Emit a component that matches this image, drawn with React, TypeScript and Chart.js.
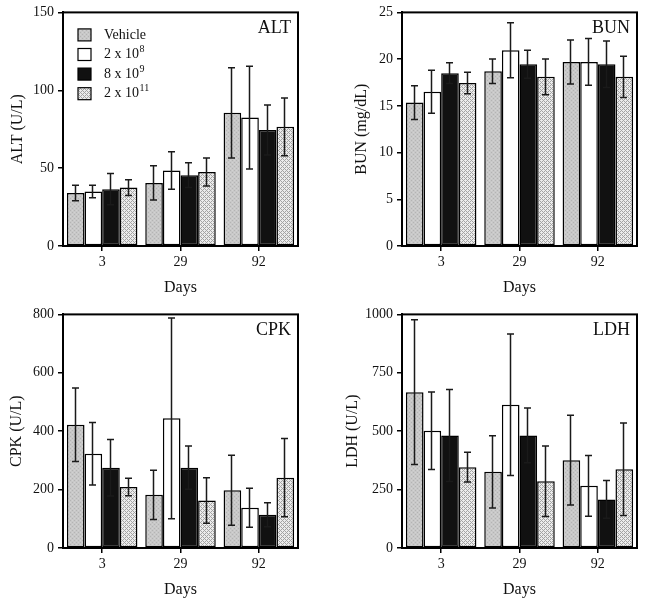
import React, { useEffect, useRef } from 'react';
import { Chart, registerables } from 'chart.js';

Chart.register(...registerables);

// ---------- data ----------
const days = ['3', '29', '92'];
const groupNames = ['Vehicle', '2 x 10', '8 x 10', '2 x 10'];
const groupExps = ['', '8', '9', '11'];

// rows: Vehicle, 2x10^8, 8x10^9, 2x10^11 ; columns: days 3, 29, 92
const altMeans = [[34, 40.5, 85.5], [35, 48.5, 82.5], [36.5, 45.5, 74.5], [37.5, 47.5, 76.5]];
const altErrs = [[5, 11, 29], [4, 12, 33], [10, 8, 16], [5, 9, 18.5]];

const bunMeans = [[15.35, 18.7, 19.7], [16.5, 20.95, 19.7], [18.5, 19.45, 19.45], [17.45, 18.1, 18.1]];
const bunErrs = [[1.8, 1.3, 2.35], [2.3, 2.95, 2.5], [1.1, 1.5, 2.5], [1.15, 1.9, 2.2]];

const cpkMeans = [[422, 182, 198], [323, 444, 138], [275, 275, 114], [209, 163, 241]];
const cpkErrs = [[126, 84, 120], [107, 344, 67], [97, 74, 41], [30, 78, 134]];

const ldhMeans = [[667, 326, 376], [502, 613, 266], [482, 482, 208], [346, 286, 337]];
const ldhErrs = [[310, 155, 192], [166, 303, 130], [197, 117, 81], [64, 151, 198]];

const altAxis = [0, 150, 50];
const bunAxis = [0, 25, 5];
const cpkAxis = [0, 800, 200];
const ldhAxis = [0, 1000, 250];

const FONT = '"Liberation Serif", "DejaVu Serif", serif';

function makePattern(kind: string): CanvasPattern | string {
  const c = document.createElement('canvas');
  c.width = 4; c.height = 4;
  const g = c.getContext('2d')!;
  if (kind === 'stipple') {
    g.fillStyle = '#c8c8c8'; g.fillRect(0, 0, 4, 4);
    g.fillStyle = '#b4b4b4';
    g.fillRect(0, 0, 1, 1); g.fillRect(2, 2, 1, 1);
    g.fillStyle = '#d2d2d2';
    g.fillRect(2, 0, 1, 1); g.fillRect(0, 2, 1, 1);
  } else {
    g.fillStyle = '#ececec'; g.fillRect(0, 0, 4, 4);
    g.fillStyle = '#a4a4a4';
    for (let x = 0; x < 4; x++) {
      for (let y = 0; y < 4; y++) {
        if ((x + y) % 4 === 0 || ((x - y) % 4 + 4) % 4 === 0) g.fillRect(x, y, 1, 1);
      }
    }
  }
  return g.createPattern(c, 'repeat') || '#ccc';
}

type PanelProps = {
  title: string; yLabel: string; means: number[][]; errs: number[][];
  axis: number[]; legend?: boolean; titlePad: number;
};

function Panel({ title, yLabel, means, errs, axis, legend, titlePad }: PanelProps) {
  const ref = useRef<HTMLCanvasElement>(null);
  useEffect(() => {
    const canvas = ref.current!;
    const fills = [makePattern('stipple'), '#ffffff', '#111111', makePattern('hatch')];

    const errPlugin = {
      id: 'errbars',
      afterDatasetsDraw(chart: any) {
        const ctx = chart.ctx; const ys = chart.scales.y;
        ctx.save();
        ctx.strokeStyle = '#1a1a1a'; ctx.lineWidth = 1.5;
        chart.data.datasets.forEach((ds: any, di: number) => {
          const meta = chart.getDatasetMeta(di);
          meta.data.forEach((bar: any, i: number) => {
            const m = means[di][i], e = errs[di][i];
            const x = Math.round(bar.x) - 0.5;
            const t = ys.getPixelForValue(m + e);
            const b = ys.getPixelForValue(m - e);
            ctx.beginPath();
            ctx.moveTo(x, t); ctx.lineTo(x, b);
            ctx.moveTo(x - 3.5, t); ctx.lineTo(x + 3.5, t);
            ctx.moveTo(x - 3.5, b); ctx.lineTo(x + 3.5, b);
            ctx.stroke();
          });
        });
        ctx.restore();
      },
      afterDraw(chart: any) {
        const ctx = chart.ctx; const a = chart.chartArea;
        ctx.save();
        ctx.strokeStyle = '#000'; ctx.lineWidth = 2;
        ctx.strokeRect(a.left, a.top, a.right - a.left, a.bottom - a.top);
        ctx.fillStyle = '#111';
        ctx.font = '18px ' + FONT;
        ctx.textAlign = 'right'; ctx.textBaseline = 'middle';
        ctx.fillText(title, a.right - 7, a.top + 16);
        if (legend) {
          groupNames.forEach((name, i) => {
            const cy = a.top + 22.5 + i * 19.6;
            ctx.fillStyle = fills[i] as any;
            ctx.fillRect(a.left + 15, cy - 6, 13, 12);
            ctx.strokeStyle = '#000'; ctx.lineWidth = 1.2;
            ctx.strokeRect(a.left + 15, cy - 6, 13, 12);
            ctx.fillStyle = '#111';
            ctx.textAlign = 'left'; ctx.textBaseline = 'middle';
            ctx.font = '14px ' + FONT;
            ctx.fillText(name, a.left + 41, cy);
            if (groupExps[i]) {
              const w = ctx.measureText(name).width;
              ctx.font = '10px ' + FONT;
              ctx.fillText(groupExps[i], a.left + 41 + w + 0.5, cy - 5);
            }
          });
        }
        ctx.restore();
      },
    };

    const chart = new Chart(canvas, {
      type: 'bar',
      data: {
        labels: days,
        datasets: means.map((vals, i) => ({
          label: groupNames[i] + groupExps[i],
          data: vals,
          backgroundColor: fills[i] as any,
          borderColor: '#000',
          borderWidth: 1.5,
          borderSkipped: false,
          categoryPercentage: 0.9,
          barPercentage: 1.0,
        })),
      },
      options: {
        responsive: false,
        animation: false,
        events: [],
        layout: { padding: { top: 12, right: 12, left: 0, bottom: 0 } },
        plugins: { legend: { display: false }, tooltip: { enabled: false }, title: { display: false } },
        scales: {
          x: {
            afterFit: (s: any) => { s.height = 54; },
            grid: { offset: false, drawOnChartArea: false, drawTicks: true, tickLength: 5, color: '#000', lineWidth: 1.5 },
            border: { display: true, color: '#000', width: 2 },
            ticks: { color: '#111', font: { family: FONT, size: 14 }, padding: 3 },
            title: { display: true, text: 'Days', color: '#111', font: { family: FONT, size: 16 }, padding: { top: 0, bottom: 3 } },
          },
          y: {
            min: axis[0], max: axis[1],
            afterFit: (s: any) => { s.width = 63; },
            grid: { drawOnChartArea: false, drawTicks: true, tickLength: 5, color: '#000', lineWidth: 1.5 },
            border: { display: true, color: '#000', width: 2 },
            ticks: {
              stepSize: axis[2], color: '#111', font: { family: FONT, size: 14 }, padding: 4,
              callback: (v: any) => String(v),
            },
            title: { display: true, text: yLabel, color: '#111', font: { family: FONT, size: 16 }, padding: { top: titlePad, bottom: 0 } },
          },
        },
      },
      plugins: [errPlugin],
    });
    return () => chart.destroy();
  }, []);
  return <canvas ref={ref} width={310} height={300} style={{ display: 'block' }} />;
}

const panels = [
  { title: 'ALT', yLabel: 'ALT (U/L)', means: altMeans, errs: altErrs, axis: altAxis, legend: true, titlePad: 8.4, left: 0, top: 0 },
  { title: 'BUN', yLabel: 'BUN (mg/dL)', means: bunMeans, errs: bunErrs, axis: bunAxis, legend: false, titlePad: 13.4, left: 339, top: 0 },
  { title: 'CPK', yLabel: 'CPK (U/L)', means: cpkMeans, errs: cpkErrs, axis: cpkAxis, legend: false, titlePad: 7.4, left: 0, top: 302 },
  { title: 'LDH', yLabel: 'LDH (U/L)', means: ldhMeans, errs: ldhErrs, axis: ldhAxis, legend: false, titlePad: 4.4, left: 339, top: 302 },
];

export default function App() {
  return (
    <div style={{ position: 'fixed', left: 0, top: 0, width: 649, height: 602, background: '#fff' }}>
      {panels.map((p) => (
        <div key={p.title} style={{ position: 'absolute', left: p.left, top: p.top, width: 310, height: 300 }}>
          <Panel title={p.title} yLabel={p.yLabel} means={p.means} errs={p.errs} axis={p.axis} legend={p.legend} titlePad={p.titlePad} />
        </div>
      ))}
    </div>
  );
}
